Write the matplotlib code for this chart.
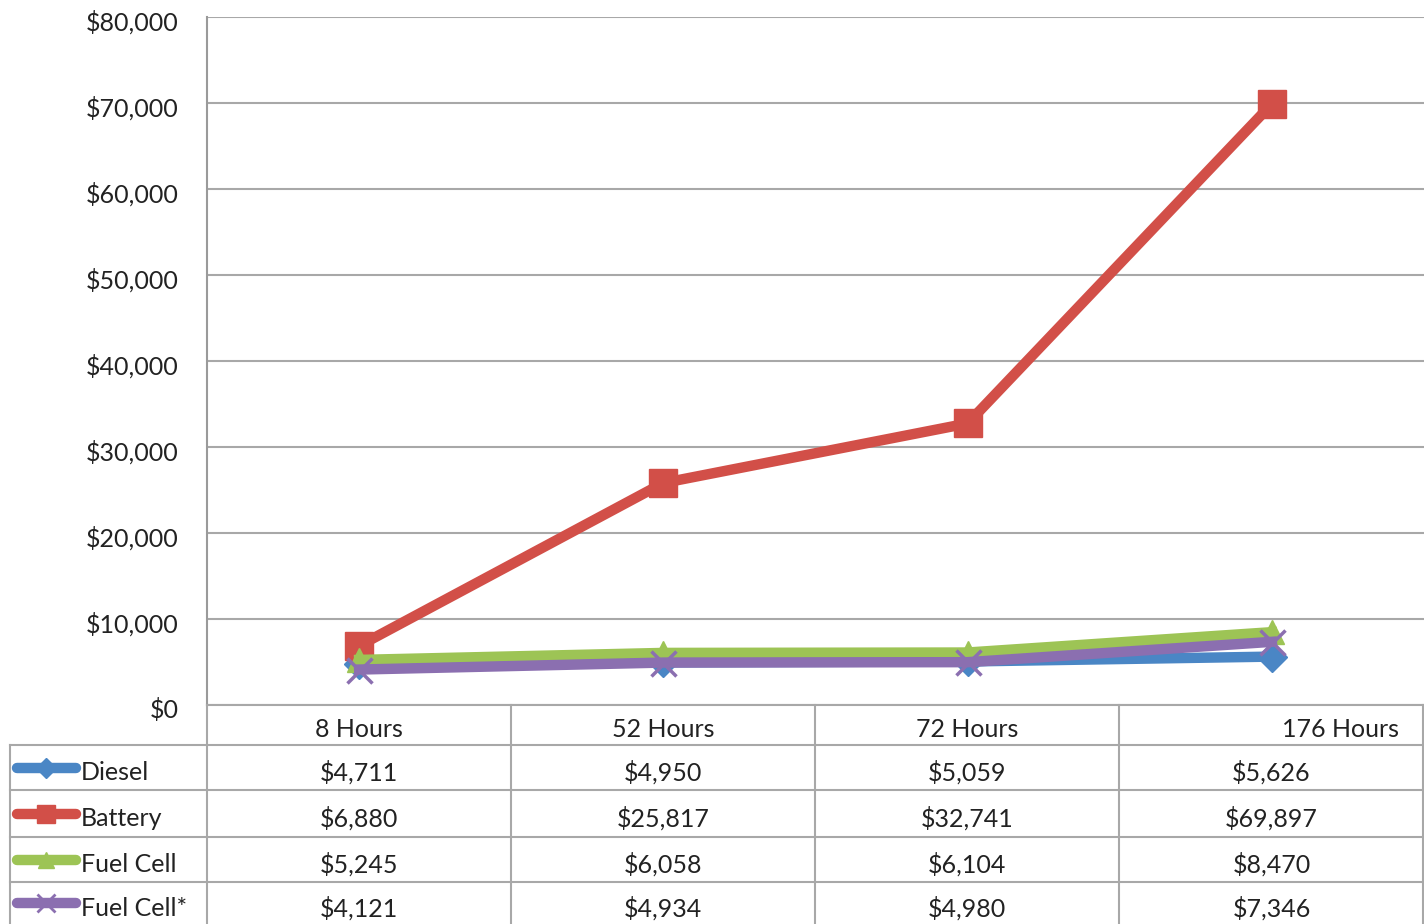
import matplotlib
matplotlib.use("Agg")
import matplotlib.pyplot as plt
from matplotlib.lines import Line2D
from matplotlib.transforms import ScaledTranslation

categories = ["8 Hours", "52 Hours", "72 Hours", "176 Hours"]
series_names = ["Diesel", "Battery", "Fuel Cell", "Fuel Cell*"]
diesel = [4711, 4950, 5059, 5626]
battery = [6880, 25817, 32741, 69897]
fuel_cell = [5245, 6058, 6104, 8470]
fuel_cell_star = [4121, 4934, 4980, 7346]
yticks = [0, 10000, 20000, 30000, 40000, 50000, 60000, 70000, 80000]

values = [diesel, battery, fuel_cell, fuel_cell_star]
colors = ["#4A86C5", "#D24F48", "#9DC455", "#8B6FB0"]
markers = ["D", "s", "^", "x"]
msizes = [15, 20, 17, 18]

plt.rcParams['font.family'] = ['Lato', 'DejaVu Sans']

W, H = 1424, 924
fig = plt.figure(figsize=(W / 100, H / 100), dpi=100)

def fx(px):
    return px / W

def fy(py):
    return 1 - py / H

fs = 18
txt_c = "#222222"

left, right, top, bottom = 207, 1424, 17, 705
ax = fig.add_axes([fx(left), fy(bottom), fx(right) - fx(left), fy(top) - fy(bottom)])
ax.set_xlim(-0.5, len(categories) - 0.5)
ax.set_ylim(0, 80000)
ax.set_yticks(yticks)
ax.set_yticklabels([])
ax.tick_params(axis="y", length=0)
ax.set_xticks([])
for s in ["top", "right", "bottom"]:
    ax.spines[s].set_visible(False)
ax.spines["left"].set_color("#9a9a9a")
ax.spines["left"].set_linewidth(1.5)
ax.grid(axis="y", color="#a8a8a8", linewidth=1.5)
ax.set_axisbelow(True)

lab_tr = ax.get_yaxis_transform() + ScaledTranslation(-28 / 100, -3 / 100, fig.dpi_scale_trans)
for v in yticks:
    ax.text(0, v, "${:,}".format(v), transform=lab_tr, ha="right", va="center_baseline",
            fontsize=fs, color=txt_c, clip_on=False)

xs = list(range(len(categories)))
for vals, c, m, ms in zip(values, colors, markers, msizes):
    if m == "x":
        ax.plot(xs, vals, color=c, linewidth=7.5, marker=m, markersize=ms,
                markeredgewidth=2.5, markeredgecolor=c, clip_on=False, zorder=3)
    else:
        ax.plot(xs, vals, color=c, linewidth=7.5, marker=m, markersize=ms,
                markeredgecolor=c, markerfacecolor=c, clip_on=False, zorder=3)

# table
grid_c = "#a8a8a8"
row_edges = [705, 745, 790, 837, 882, 924]
col_edges = [10, 207, 511, 815, 1119, 1424]

def hline(y, x0, x1):
    fig.add_artist(Line2D([fx(x0), fx(x1)], [fy(y), fy(y)], color=grid_c, linewidth=1.5))

def vline(x, y0, y1):
    fig.add_artist(Line2D([fx(x), fx(x)], [fy(y0), fy(y1)], color=grid_c, linewidth=1.5))

hline(row_edges[0], col_edges[1], col_edges[-1])
for y in row_edges[1:5]:
    hline(y, col_edges[0], col_edges[-1])
vline(col_edges[0], row_edges[1], H)
vline(col_edges[1], row_edges[0], H)
for x in col_edges[2:5]:
    vline(x, row_edges[0], H)
vline(col_edges[-1] - 1, row_edges[0], H)

# header
for i, cat in enumerate(categories):
    cx = (col_edges[i + 1] + col_edges[i + 2]) / 2
    if i == len(categories) - 1:
        cx = 1340
    fig.text(fx(cx), fy(727.5), cat,
             ha="center", va="center_baseline", fontsize=fs, color=txt_c)

# rows
for r, (name, vals, c, m, ms) in enumerate(zip(series_names, values, colors, markers, msizes)):
    cy = (row_edges[r + 1] + row_edges[r + 2]) / 2
    ty = cy + 3
    fig.add_artist(Line2D([fx(17), fx(76)], [fy(cy), fy(cy)], color=c,
                          linewidth=7.5, solid_capstyle="round"))
    if m == "x":
        fig.add_artist(Line2D([fx(46)], [fy(cy)], marker=m, markersize=ms * 0.7,
                              markeredgewidth=2, color=c, linestyle="none"))
    else:
        fig.add_artist(Line2D([fx(46)], [fy(cy)], marker=m, markersize=ms * 0.65,
                              color=c, markeredgecolor=c, linestyle="none"))
    fig.text(fx(81), fy(ty), name, ha="left", va="center_baseline", fontsize=fs, color=txt_c)
    for i, v in enumerate(vals):
        cx = (col_edges[i + 1] + col_edges[i + 2]) / 2
        fig.text(fx(cx), fy(ty), "${:,}".format(v), ha="center", va="center_baseline",
                 fontsize=fs, color=txt_c)

fig.savefig("out.png", dpi=100)
